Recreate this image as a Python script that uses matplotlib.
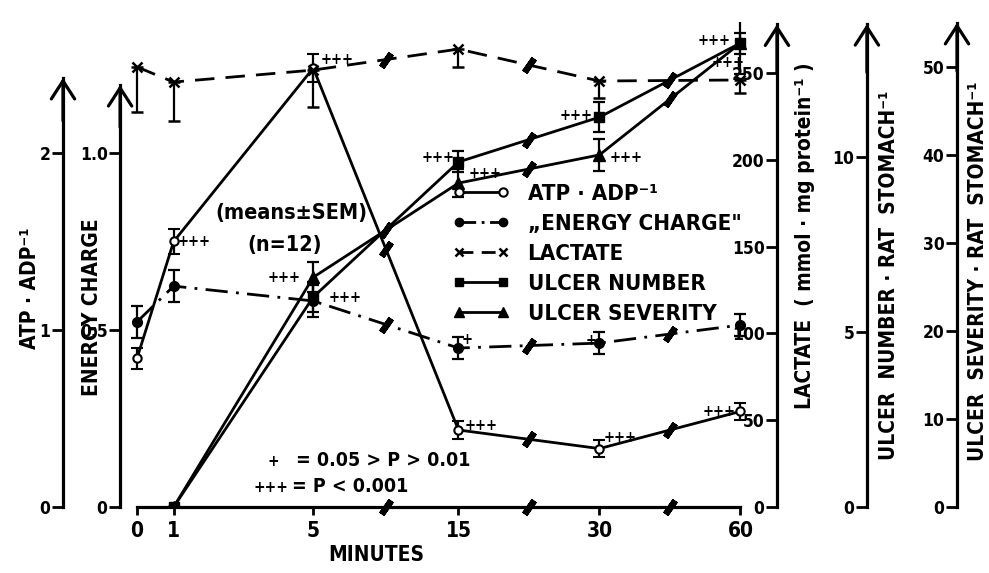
import matplotlib.pyplot as plt
from matplotlib.lines import Line2D

plt.rcParams['font.family'] = ['DejaVu Sans']
plt.rcParams['font.stretch'] = 'condensed'
plt.rcParams['font.weight'] = 'bold'
plt.rcParams['axes.labelweight'] = 'bold'

# sampling times and where they sit on the broken time axis
minutes = [0, 1, 5, 15, 30, 60]
time_pos = [0, 0.26, 1.25, 2.28, 3.28, 4.28]

atp_adp = [0.84, 1.50, 2.48, 0.435, 0.33, 0.54]
atp_adp_sem = [0.06, 0.07, 0.08, 0.05, 0.05, 0.05]
energy_charge = [0.523, 0.624, 0.582, 0.449, 0.463, 0.514]
energy_charge_sem = [0.045, 0.045, 0.045, 0.032, 0.03, 0.03]
lactate = [253.5, 244.8, 251.7, 263.8, 245.4, 246.0]
lactate_sem = [26, 22.5, 21, 10.4, 9.8, 7.5]

# ulcers were scored from 1 min on
ulcer_idx = [1, 2, 3, 4, 5]
ulcer_number = [0, 6.0, 9.86, 11.14, 13.26]
ulcer_number_sem = [0, 0.43, 0.3, 0.43, 0.9]
ulcer_severity = [0, 26.1, 36.8, 40.0, 52.7]
ulcer_severity_sem = [0, 1.7, 1.6, 1.8, 1.2]

# significance marks: (point index, mark)
sig_atp = [(1, '+++'), (2, '+++'), (3, '+++'), (4, '+++'), (5, '+++')]
sig_ec = [(3, '+'), (4, '+')]
sig_number = [(1, '+++'), (2, '+++'), (3, '+++'), (4, '+++')]
sig_severity = [(1, '+++'), (2, '+++'), (3, '+++'), (4, '+++')]

W, H = 989, 573
fig = plt.figure(figsize=(W / 100, H / 100), dpi=100)
rect = [63 / W, 66 / H, 894 / W, 485 / H]
xlim = (-0.525, 5.816)

ax = fig.add_axes(rect)
ax.set_xlim(*xlim)


def setup_scale(a, spine_x, top, tip, ticks, ticklabels):
    a.set_xlim(*xlim)
    a.set_ylim(0, top)
    a.patch.set_visible(False)
    for s in a.spines.values():
        s.set_visible(False)
    sp = a.spines['left']
    sp.set_visible(True)
    sp.set_position(('data', spine_x))
    sp.set_bounds(0, tip)
    sp.set_linewidth(2.3)
    a.yaxis.tick_left()
    a.set_yticks(ticks)
    a.set_yticklabels(ticklabels)
    a.tick_params(axis='y', direction='out', length=8, width=2, labelsize=12.5, pad=1)
    a.annotate('', xy=(spine_x, tip), xytext=(spine_x, tip * 0.9),
               arrowprops=dict(arrowstyle='->, head_length=0.65, head_width=0.42',
                               lw=2.3, color='k', shrinkA=0, shrinkB=0,
                               mutation_scale=20),
               annotation_clip=False)


def new_axes():
    a = fig.add_axes(rect, sharex=ax)
    a.xaxis.set_visible(False)
    return a


setup_scale(ax, xlim[0], 2.740, 2.424, [0, 1, 2], ['0', '1', '2'])
ax_ec = new_axes()
setup_scale(ax_ec, -0.12, 1.370, 1.192, [0, 0.5, 1.0], ['0', '0.5', '1.0'])
ax_lac = new_axes()
setup_scale(ax_lac, 4.539, 279.4, 278, [0, 50, 100, 150, 200, 250],
            ['0', '50', '100', '150', '200', '250'])
ax_un = new_axes()
setup_scale(ax_un, 5.177, 13.86, 13.8, [0, 5, 10], ['0', '5', '10'])
ax_us = new_axes()
setup_scale(ax_us, xlim[1], 55.1, 55.0, [0, 10, 20, 30, 40, 50],
            ['0', '10', '20', '30', '40', '50'])

# time axis
ax.spines['bottom'].set_visible(True)
ax.spines['bottom'].set_bounds(time_pos[0], time_pos[-1])
ax.spines['bottom'].set_linewidth(2.3)
ax.set_xticks(time_pos)
ax.set_xticklabels([str(m) for m in minutes])
ax.tick_params(axis='x', direction='out', length=6, width=2, labelsize=15, pad=4)
ax.set_xlabel('MINUTES', fontsize=15, fontweight='bold')
ax.xaxis.set_label_coords(0.350, -0.078)

brk = dict(ls='none', marker=(2, 2, -35), ms=12, mew=4.5, color='k', clip_on=False, zorder=5)


def add_breaks(a, xs, ys):
    mx, my = [], []
    for i in range(len(xs) - 1):
        if xs[i] >= time_pos[2]:
            mx.append((xs[i] + xs[i + 1]) / 2)
            my.append((ys[i] + ys[i + 1]) / 2)
    a.plot(mx, my, **brk)


add_breaks(ax, time_pos, [0] * len(time_pos))

lw = 2.0
eb = dict(color='k', lw=lw, capsize=4, elinewidth=1.6, capthick=1.6)

ax.errorbar(time_pos, atp_adp, yerr=atp_adp_sem, fmt='-o', ms=6, mfc='white', mec='k', mew=1.5, **eb)
add_breaks(ax, time_pos, atp_adp)

ax_ec.errorbar(time_pos, energy_charge, yerr=energy_charge_sem, fmt='o', ls=(0, (8, 3, 1, 3)),
               ms=7, mfc='k', mec='k', **eb)
add_breaks(ax_ec, time_pos, energy_charge)

ax_lac.errorbar(time_pos, lactate, yerr=[lactate_sem, [0] * len(lactate)], fmt='x', ls=(0, (7, 4)),
                ms=7, mew=1.8, **eb)
add_breaks(ax_lac, time_pos, lactate)

u_pos = [time_pos[i] for i in ulcer_idx]
ax_un.errorbar(u_pos, ulcer_number, yerr=ulcer_number_sem, fmt='-s', ms=7, mfc='k', mec='k', **eb)
add_breaks(ax_un, u_pos, ulcer_number)
ax_us.errorbar(u_pos, ulcer_severity, yerr=ulcer_severity_sem, fmt='-^', ms=8, mfc='k', mec='k', **eb)
add_breaks(ax_us, u_pos, ulcer_severity)


def add_sig(a, xs, ys, marks, offsets):
    for (i, m), (dx, dy) in zip(marks, offsets):
        a.annotate(m, (xs[i], ys[i]), xytext=(dx, dy), textcoords='offset points',
                   ha='center', va='center', fontsize=10.5, fontweight='bold')


add_sig(ax, time_pos, atp_adp, sig_atp, [(15, 0), (17, 6), (16, 3), (15, 8), (-15, 0)])
add_sig(ax_ec, time_pos, energy_charge, sig_ec, [(6, 6), (-6, 2)])
add_sig(ax_un, u_pos, ulcer_number, [(j, m) for j, (i, m) in enumerate(sig_number, start=1)],
        [(23, 0), (-15, 3), (-17, 1), (-9, -14)])
add_sig(ax_us, u_pos, ulcer_severity, [(j, m) for j, (i, m) in enumerate(sig_severity, start=1)],
        [(-21, 0), (19, 7), (19, -2), (-19, 2)])

# axis titles
tk = dict(rotation=90, ha='center', va='center', fontsize=15)
fig.text(30 / W, 1 - 288 / H, 'ATP · ADP⁻¹', **tk)
fig.text(92 / W, 1 - 307 / H, 'ENERGY CHARGE', **tk)
fig.text(805 / W, 1 - 236 / H, 'LACTATE  ( mmol · mg protein⁻¹ )', **tk)
fig.text(889 / W, 1 - 275 / H, 'ULCER  NUMBER · RAT  STOMACH⁻¹', **tk)
fig.text(978 / W, 1 - 271 / H, 'ULCER  SEVERITY · RAT  STOMACH⁻¹', **tk)

fig.text(291 / W, 1 - 213 / H, '(means±SEM)', ha='center', va='center', fontsize=15.5)
fig.text(285 / W, 1 - 245 / H, '(n=12)', ha='center', va='center', fontsize=15.5)
fig.text(273 / W, 1 - 461 / H, '+', ha='center', va='center', fontsize=11)
fig.text(296 / W, 1 - 461 / H, '= 0.05 > P > 0.01', ha='left', va='center', fontsize=14)
fig.text(271 / W, 1 - 487 / H, '+++', ha='center', va='center', fontsize=11)
fig.text(292 / W, 1 - 487 / H, '= P < 0.001', ha='left', va='center', fontsize=14)

handles = [
    Line2D([], [], color='k', lw=lw, marker='o', ms=6, mfc='white', mew=1.5),
    Line2D([], [], color='k', lw=lw, ls=(0, (6, 2, 1, 2)), marker='o', ms=6),
    Line2D([], [], color='k', lw=lw, ls=(0, (5, 3)), marker='x', ms=6, mew=1.8),
    Line2D([], [], color='k', lw=lw, marker='s', ms=6),
    Line2D([], [], color='k', lw=lw, marker='^', ms=7),
]
labels = ['ATP · ADP⁻¹', '„ENERGY CHARGE"', 'LACTATE', 'ULCER NUMBER', 'ULCER SEVERITY']
leg = ax_us.legend(handles, labels, loc='upper left', bbox_to_anchor=(452 / W, 1 - 184 / H),
                   bbox_transform=fig.transFigure, frameon=False, numpoints=2, fontsize=16,
                   handlelength=2.6, handletextpad=0.8, labelspacing=0.45, borderpad=0,
                   borderaxespad=0)

fig.savefig('out.png', dpi=100)
